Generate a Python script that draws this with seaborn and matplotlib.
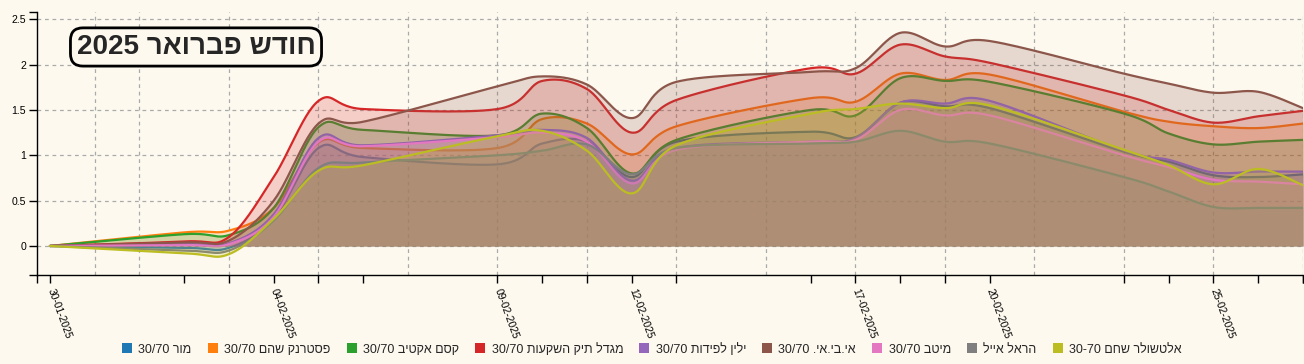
import numpy as np
import pandas as pd
import matplotlib
matplotlib.use("Agg")
import matplotlib.pyplot as plt
import matplotlib.dates as mdates
from matplotlib.patches import Patch
import seaborn as sns

# trading days in the chart
dates = ["30-01-2025", "02-02-2025", "03-02-2025", "04-02-2025", "05-02-2025", "06-02-2025",
         "09-02-2025", "10-02-2025", "11-02-2025", "12-02-2025", "13-02-2025", "16-02-2025",
         "17-02-2025", "18-02-2025", "19-02-2025", "20-02-2025", "23-02-2025", "24-02-2025",
         "25-02-2025", "26-02-2025", "27-02-2025"]
label_dates = ["30-01-2025", "04-02-2025", "09-02-2025", "12-02-2025",
               "17-02-2025", "20-02-2025", "25-02-2025"]
grid_dates = ["31-01-2025", "01-02-2025", "03-02-2025", "05-02-2025", "07-02-2025",
              "09-02-2025", "11-02-2025", "13-02-2025", "15-02-2025", "17-02-2025",
              "19-02-2025", "21-02-2025", "23-02-2025", "25-02-2025", "27-02-2025"]

names = ["מור 30/70", "פסטרנק שהם 30/70", "קסם אקטיב 30/70", "מגדל תיק השקעות 30/70",
         "ילין לפידות 30/70", "אי.בי.אי. 30/70", "מיטב 30/70", "הראל אייל",
         "אלטשולר שחם 30-70"]
colors = ["#1f77b4", "#ff7f0e", "#2ca02c", "#d62728", "#9467bd",
          "#8c564b", "#e377c2", "#7f7f7f", "#bcbd22"]

# returns (%)
mor = [0, -0.02, -0.02, 0.30, 1.08, 0.98, 0.90, 1.13, 1.15, 0.76, 1.15, 1.26, 1.20, 1.58, 1.54, 1.52, 1.04, 0.93, 0.78, 0.76, 0.79]
pasternak = [0, 0.15, 0.17, 0.42, 1.14, 1.08, 1.08, 1.40, 1.35, 1.01, 1.32, 1.63, 1.59, 1.90, 1.83, 1.89, 1.48, 1.37, 1.32, 1.30, 1.35]
kesem = [0, 0.13, 0.12, 0.42, 1.31, 1.28, 1.22, 1.46, 1.30, 0.80, 1.17, 1.50, 1.44, 1.85, 1.82, 1.81, 1.46, 1.24, 1.12, 1.15, 1.17]
migdal = [0, 0.05, 0.10, 0.76, 1.60, 1.51, 1.51, 1.82, 1.73, 1.25, 1.61, 1.96, 1.90, 2.22, 2.09, 2.02, 1.66, 1.50, 1.36, 1.43, 1.49]
yelin = [0, 0.02, 0.03, 0.35, 1.19, 1.11, 1.22, 1.28, 1.19, 0.72, 1.08, 1.15, 1.19, 1.58, 1.57, 1.60, 1.05, 0.95, 0.81, 0.82, 0.82]
ibi = [0, 0.04, 0.06, 0.50, 1.35, 1.37, 1.76, 1.87, 1.78, 1.41, 1.81, 1.92, 1.96, 2.35, 2.20, 2.26, 1.90, 1.79, 1.69, 1.70, 1.52]
meitav = [0, 0.01, 0.02, 0.32, 1.15, 1.10, 1.20, 1.25, 1.15, 0.69, 1.06, 1.15, 1.17, 1.50, 1.44, 1.44, 1.00, 0.87, 0.73, 0.71, 0.68]
harel = [0, -0.05, -0.05, 0.28, 0.86, 0.92, 1.00, 1.05, 1.12, 0.79, 1.08, 1.13, 1.15, 1.27, 1.15, 1.13, 0.76, 0.60, 0.43, 0.42, 0.42]
altshuler = [0, -0.08, -0.09, 0.30, 0.83, 0.89, 1.21, 1.27, 1.05, 0.58, 1.11, 1.46, 1.51, 1.57, 1.52, 1.55, 1.06, 0.89, 0.68, 0.85, 0.67]
series = [mor, pasternak, kesem, migdal, yelin, ibi, meitav, harel, altshuler]

title = "חודש פברואר 2025"
bg = "#fdf9ef"


def rtl(s):
    # visual order for hebrew text (matplotlib has no bidi)
    out = []
    for w in reversed(s.split(" ")):
        if any("\u0590" <= c <= "\u05ff" for c in w):
            out.append(w[::-1])
        else:
            out.append(w)
    return " ".join(out)


def spline(x, y, n=30, k=1 / 6):
    # cardinal spline like d3 area-spline
    p = np.column_stack([x, y]).astype(float)
    ext = np.vstack([p[:1], p, p[-1:]])
    t = np.linspace(0, 1, n)[:, None]
    parts = []
    for i in range(len(p) - 1):
        p0, p1, p2, p3 = ext[i], ext[i + 1], ext[i + 2], ext[i + 3]
        c1 = p1 + (p2 - p0) * k
        c2 = p2 - (p3 - p1) * k
        b = (1 - t) ** 3 * p1 + 3 * (1 - t) ** 2 * t * c1 + 3 * (1 - t) * t ** 2 * c2 + t ** 3 * p2
        parts.append(b if i == 0 else b[1:])
    b = np.vstack(parts)
    return b[:, 0], b[:, 1]


sns.set_style("ticks", {"axes.facecolor": bg, "figure.facecolor": bg})
plt.rcParams["font.family"] = ["Liberation Sans", "DejaVu Sans"]

x = mdates.date2num(pd.to_datetime(dates, format="%d-%m-%Y"))
fig = plt.figure(figsize=(13.04, 3.64), dpi=100)
ax = fig.add_axes([37 / 1304, 1 - 275 / 364, 1266 / 1304, 263 / 364])

for i, (vals, c) in enumerate(zip(series, colors)):
    sx, sy = spline(x, vals)
    sns.lineplot(x=sx, y=sy, color=c, lw=1.6, sort=False, estimator=None, ax=ax, zorder=3 + 2 * i)
    ax.fill_between(sx, 0, sy, color=c, alpha=0.2, lw=0, zorder=4 + 2 * i)

xmin = x[0] - 0.29
ax.set_xlim(xmin, x[-1])
ax.set_ylim(-0.32, 2.58)

# x ticks: every trading day, labels only on some
lab = set(label_dates)
ax.xaxis.remove_overlapping_locs = False
ax.set_xticks(list(x) + [xmin, x[-1]])
ax.set_xticklabels([d if d in lab else "" for d in dates] + ["", ""])
ax.set_xticks(mdates.date2num(pd.to_datetime(grid_dates, format="%d-%m-%Y")), minor=True)
for t in ax.get_xticklabels():
    t.set_rotation(-70)
    t.set_ha("left")
    t.set_va("center")
    t.set_rotation_mode("anchor")
ax.tick_params(axis="x", which="major", length=6, width=1, labelsize=7.4, pad=4, colors="black")
ax.tick_params(axis="x", which="minor", length=0)

yt = [0, 0.5, 1, 1.5, 2, 2.5]
ax.set_yticks(yt)
ax.set_yticklabels(["0", "0.5", "1", "1.5", "2", "2.5"])
ax.set_yticks([-0.32, 2.58], minor=True)
ax.tick_params(axis="y", which="both", length=6, width=1, labelsize=7.6, pad=2, colors="black")

ax.grid(True, axis="y", which="major", ls=(0, (3, 3)), color="#aaaaaa", lw=0.9)
ax.grid(True, axis="x", which="minor", ls=(0, (3, 3)), color="#aaaaaa", lw=0.9)
ax.set_xlabel("")
ax.set_ylabel("")
sns.despine(ax=ax)
for s in ["left", "bottom"]:
    ax.spines[s].set_color("black")
    ax.spines[s].set_linewidth(1)

ax.text(0.1256, 0.867, rtl(title), transform=ax.transAxes, ha="center", va="center",
        fontsize=20, fontweight="bold", zorder=30,
        bbox=dict(boxstyle="round,pad=0.22,rounding_size=0.45", fc=bg, ec="black", lw=2))

handles = [Patch(facecolor=c, edgecolor="none") for c in colors]
fig.legend(handles, [rtl(n) for n in names], loc="center", bbox_to_anchor=(0.5, 0.041),
           ncol=9, frameon=False, fontsize=9, handlelength=0.8, handleheight=0.8,
           handletextpad=0.5, columnspacing=1.3)

fig.savefig("out.png", dpi=100, facecolor=bg)
